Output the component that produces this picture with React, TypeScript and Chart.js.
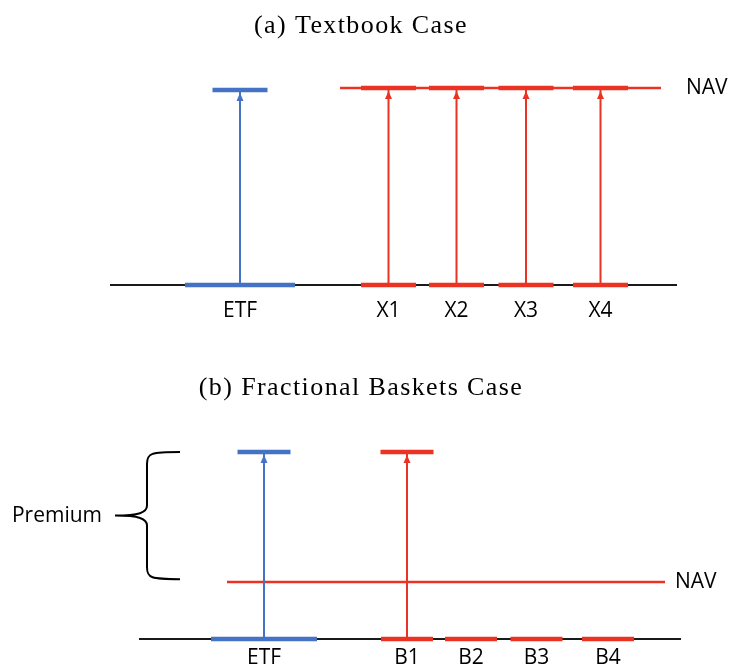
import React, { useEffect, useRef } from "react";
import { Chart, registerables } from "chart.js";

Chart.register(...registerables);

const BLUE = "#4472c4";
const RED = "#ea3323";
const INK = "#000000";

// ---------- Panel (a): Textbook Case ----------
const A_TITLE = "(a) Textbook Case";
const A_LABELS = ["ETF", "X1", "X2", "X3", "X4"];
const A_CENTERS = [240, 388.5, 456.5, 526, 600.5];
const A_BASE_HALF = [55, 27.5, 27.5, 27.5, 27.5];
const A_TOP_HALF = [27.5, 27.5, 27.5, 27.5, 27.5];
const A_PRICES = [0.99, 1, 1, 1, 1];
const A_ARROWS = [true, true, true, true, true];
const A_NAV = 1;
const A_NAV_SPAN = [340, 661];
const A_BASE_SPAN = [110, 677];

// ---------- Panel (b): Fractional Baskets Case ----------
const B_TITLE = "(b) Fractional Baskets Case";
const B_LABELS = ["ETF", "B1", "B2", "B3", "B4"];
const B_CENTERS = [264, 407, 471, 536.5, 608];
const B_BASE_HALF = [53, 26, 26, 26, 26];
const B_TOP_HALF = [26.5, 26.5, 0, 0, 0];
const B_PRICES = [3.28, 3.28, null, null, null];
const B_ARROWS = [true, true, false, false, false];
const B_NAV = 1;
const B_NAV_SPAN = [227, 665];
const B_BASE_SPAN = [139, 681];
const B_PREMIUM_RANGE = [1.05, 3.28];
const B_PREMIUM_LABEL = "Premium";

const COLORS = (labels: string[]) => labels.map((l) => (l === "ETF" ? BLUE : RED));

type Panel = {
  title: string;
  titleY: number;
  height: number;
  yMin: number;
  yMax: number;
  labels: string[];
  centers: number[];
  baseHalf: number[];
  topHalf: number[];
  prices: (number | null)[];
  arrows: boolean[];
  nav: number;
  navSpan: number[];
  navLabelX: number;
  baseSpan: number[];
  labelY: number;
  premium?: number[];
};

const PANELS: Panel[] = [
  {
    title: A_TITLE,
    titleY: 26,
    height: 335,
    yMin: -50 / 197,
    yMax: 285 / 197,
    labels: A_LABELS,
    centers: A_CENTERS,
    baseHalf: A_BASE_HALF,
    topHalf: A_TOP_HALF,
    prices: A_PRICES,
    arrows: A_ARROWS,
    nav: A_NAV,
    navSpan: A_NAV_SPAN,
    navLabelX: 686,
    baseSpan: A_BASE_SPAN,
    labelY: -0.13,
  },
  {
    title: B_TITLE,
    titleY: 53,
    height: 336,
    yMin: -32 / 57,
    yMax: 304 / 57,
    labels: B_LABELS,
    centers: B_CENTERS,
    baseHalf: B_BASE_HALF,
    topHalf: B_TOP_HALF,
    prices: B_PRICES,
    arrows: B_ARROWS,
    nav: B_NAV,
    navSpan: B_NAV_SPAN,
    navLabelX: 675,
    baseSpan: B_BASE_SPAN,
    labelY: -0.34,
    premium: B_PREMIUM_RANGE,
  },
];

type Pt = { x: number; y: number | null };

function segments(list: { a: number; b: number; y: number }[]): Pt[] {
  const out: Pt[] = [];
  list.forEach((s, i) => {
    out.push({ x: s.a, y: s.y });
    out.push({ x: s.b, y: s.y });
    if (i < list.length - 1) out.push({ x: (s.b + list[i + 1].a) / 2, y: null });
  });
  return out;
}

function vsegments(list: { x: number; y0: number; y1: number }[]): Pt[] {
  const out: Pt[] = [];
  list.forEach((s, i) => {
    out.push({ x: s.x, y: s.y0 });
    out.push({ x: s.x, y: s.y1 });
    if (i < list.length - 1) out.push({ x: s.x, y: null });
  });
  return out;
}

function lineDs(data: Pt[], color: string, width: number) {
  return {
    type: "line" as const,
    data,
    borderColor: color,
    backgroundColor: color,
    borderWidth: width,
    pointRadius: 0,
    tension: 0,
    spanGaps: false,
    borderCapStyle: "butt" as const,
    fill: false,
  };
}

function buildDatasets(p: Panel) {
  const colors = COLORS(p.labels);
  const idx = p.labels.map((_, i) => i);
  const pick = (c: string) => idx.filter((i) => colors[i] === c);
  const tops = (c: string) =>
    segments(
      pick(c)
        .filter((i) => p.prices[i] !== null && p.topHalf[i] > 0)
        .map((i) => ({ a: p.centers[i] - p.topHalf[i], b: p.centers[i] + p.topHalf[i], y: p.prices[i] as number }))
    );
  const bases = (c: string) =>
    segments(pick(c).map((i) => ({ a: p.centers[i] - p.baseHalf[i], b: p.centers[i] + p.baseHalf[i], y: 0 })));
  const shafts = (c: string) =>
    vsegments(
      pick(c)
        .filter((i) => p.arrows[i] && p.prices[i] !== null)
        .map((i) => ({ x: p.centers[i], y0: 0, y1: p.prices[i] as number }))
    );
  return [
    lineDs(tops(BLUE), BLUE, 4.5),
    lineDs(tops(RED), RED, 4.5),
    lineDs(bases(BLUE), BLUE, 4.5),
    lineDs(bases(RED), RED, 4.5),
    lineDs(shafts(BLUE), BLUE, 2),
    lineDs(shafts(RED), RED, 2),
    lineDs(segments([{ a: p.navSpan[0], b: p.navSpan[1], y: p.nav }]), RED, 2.5),
    lineDs(segments([{ a: p.baseSpan[0], b: p.baseSpan[1], y: 0 }]), "#1a1a1a", 2),
  ];
}

function makeDecor(p: Panel) {
  return {
    id: "decor",
    afterDatasetsDraw(chart: any) {
      const ctx: CanvasRenderingContext2D = chart.ctx;
      const xs = chart.scales.x;
      const ys = chart.scales.y;
      const colors = COLORS(p.labels);
      ctx.save();
      // arrowheads
      p.labels.forEach((_, i) => {
        const pr = p.prices[i];
        if (!p.arrows[i] || pr === null) return;
        const x = xs.getPixelForValue(p.centers[i]);
        const tip = ys.getPixelForValue(pr) + 3;
        ctx.fillStyle = colors[i];
        ctx.beginPath();
        ctx.moveTo(x, tip);
        ctx.lineTo(x - 3.5, tip + 8);
        ctx.lineTo(x + 3.5, tip + 8);
        ctx.closePath();
        ctx.fill();
      });
      // category labels
      ctx.fillStyle = INK;
      ctx.font = "21px 'Open Sans'";
      ctx.textAlign = "center";
      ctx.textBaseline = "middle";
      p.labels.forEach((l, i) => {
        ctx.fillText(l, xs.getPixelForValue(p.centers[i]), ys.getPixelForValue(p.labelY));
      });
      // NAV label
      ctx.textAlign = "left";
      ctx.fillText("NAV", xs.getPixelForValue(p.navLabelX), ys.getPixelForValue(p.nav));
      // premium brace
      if (p.premium) {
        const yT = ys.getPixelForValue(p.premium[1]);
        const yB = ys.getPixelForValue(p.premium[0]);
        const yM = (yT + yB) / 2;
        const xe = xs.getPixelForValue(180);
        const xv = xs.getPixelForValue(147);
        const xt = xs.getPixelForValue(115);
        ctx.strokeStyle = INK;
        ctx.lineWidth = 2;
        ctx.beginPath();
        ctx.moveTo(xe, yT);
        ctx.bezierCurveTo(xv + 4, yT, xv, yT + 1, xv, yT + 12);
        ctx.lineTo(xv, yM - 10);
        ctx.bezierCurveTo(xv, yM - 3, xv - 8, yM, xt, yM);
        ctx.moveTo(xt, yM);
        ctx.bezierCurveTo(xv - 8, yM, xv, yM + 3, xv, yM + 10);
        ctx.lineTo(xv, yB - 12);
        ctx.bezierCurveTo(xv, yB - 1, xv + 4, yB, xe, yB);
        ctx.stroke();
        ctx.textAlign = "right";
        ctx.fillText(B_PREMIUM_LABEL, xs.getPixelForValue(102), yM);
      }
      // title
      ctx.font = "26px 'Liberation Serif'";
      (ctx as any).letterSpacing = "1.4px";
      ctx.textAlign = "center";
      ctx.fillText(p.title, 361, p.titleY);
      ctx.restore();
    },
  };
}

function PanelChart({ p }: { p: Panel }) {
  const ref = useRef<HTMLCanvasElement | null>(null);
  useEffect(() => {
    if (!ref.current) return;
    const chart = new Chart(ref.current, {
      type: "line",
      data: { datasets: buildDatasets(p) as any },
      options: {
        responsive: false,
        animation: false,
        devicePixelRatio: 1,
        events: [],
        layout: { padding: 0 },
        plugins: { legend: { display: false }, tooltip: { enabled: false }, title: { display: false } },
        scales: {
          x: { type: "linear", min: 0, max: 735, display: false },
          y: { type: "linear", min: p.yMin, max: p.yMax, display: false },
        },
      },
      plugins: [makeDecor(p)],
    });
    return () => chart.destroy();
  }, [p]);
  return <canvas ref={ref} width={735} height={p.height} style={{ display: "block", width: 735, height: p.height }} />;
}

export default function App() {
  return (
    <div style={{ position: "absolute", left: 0, top: 0, width: 735, height: 671, background: "#ffffff" }}>
      {PANELS.map((p, i) => (
        <PanelChart key={i} p={p} />
      ))}
    </div>
  );
}
